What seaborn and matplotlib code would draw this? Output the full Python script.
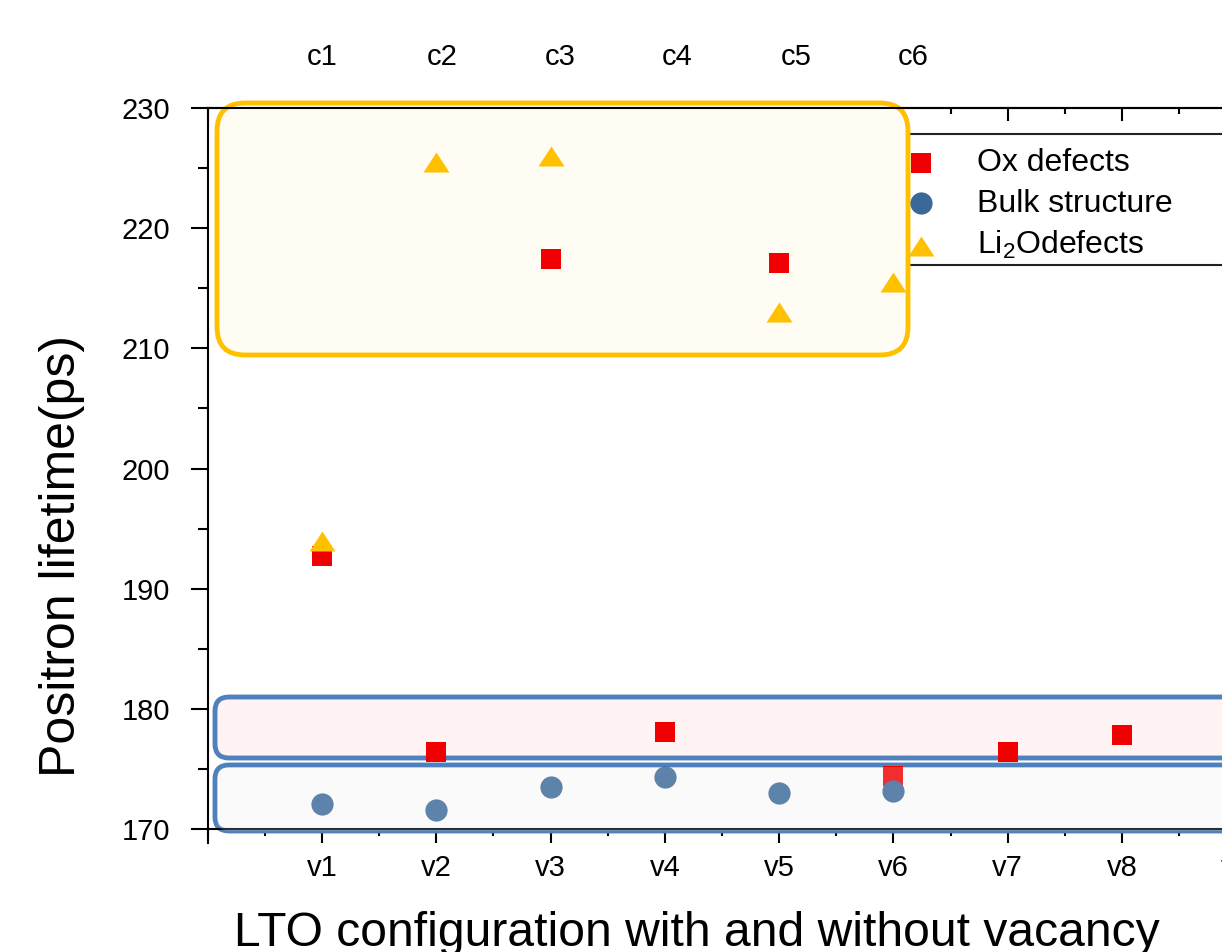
import numpy as np
import pandas as pd
import matplotlib
matplotlib.use('Agg')
import matplotlib.pyplot as plt
import matplotlib.transforms as mtransforms
import seaborn as sns
from matplotlib.patches import FancyBboxPatch, Rectangle
from matplotlib.ticker import MultipleLocator

# data
config_labels = ['v1', 'v2', 'v3', 'v4', 'v5', 'v6', 'v7', 'v8', 'v9']
top_labels = ['c1', 'c2', 'c3', 'c4', 'c5', 'c6']

ox_x = [1, 2, 3, 4, 5, 6, 7, 8]
ox_y = [192.7, 176.4, 217.4, 178.1, 217.1, 174.4, 176.4, 177.8]

bulk_x = [1, 2, 3, 4, 5, 6]
bulk_y = [172.1, 171.6, 173.5, 174.3, 173.0, 173.2]

li2o_x = [1, 2, 3, 5, 6]
li2o_y = [194.0, 225.5, 226.0, 213.0, 215.5]

# where the c-labels sit along the top (data x)
c_label_pos = [1.0, 2.05, 3.08, 4.11, 5.15, 6.17]

RED = '#f00000'
BLUE = '#3a6898'
GOLD = '#ffc000'
BOX_BLUE = '#4f81bd'

sns.set_theme(style='ticks')
plt.rcParams['font.family'] = ['Liberation Sans', 'DejaVu Sans']
plt.rcParams['mathtext.fontset'] = 'custom'
plt.rcParams['mathtext.rm'] = 'Liberation Sans'
plt.rcParams['mathtext.it'] = 'Liberation Sans:italic'
plt.rcParams['text.color'] = 'black'
plt.rcParams['axes.labelcolor'] = 'black'
plt.rcParams['xtick.color'] = 'black'
plt.rcParams['ytick.color'] = 'black'

W, H = 1222, 952
fig = plt.figure(figsize=(W / 100, H / 100), dpi=100)

x0_px, x_unit = 207.7, 114.3
y_top_px, y_bot_px = 108, 829
xmax = 9.6
ax = fig.add_axes([x0_px / W, (H - y_bot_px) / H,
                   xmax * x_unit / W, (y_bot_px - y_top_px) / H])
ax.set_xlim(0, xmax)
ax.set_ylim(170, 230)
y_unit = (y_bot_px - y_top_px) / 60.0
aspect = x_unit / y_unit


def px_to_data(px, py):
    return (px - x0_px) / x_unit, 230 - (py - y_top_px) / y_unit


def rounded_box(left, top, right, bottom, r_px, fc, ec, z, lw=3.5):
    xa, ya = px_to_data(left, bottom)
    xb, yb = px_to_data(right, top)
    p = FancyBboxPatch((xa, ya), xb - xa, yb - ya,
                       boxstyle=f"round,pad=0,rounding_size={r_px / x_unit}",
                       mutation_aspect=aspect, fc=fc, ec=ec, lw=lw,
                       zorder=z, clip_on=False)
    ax.add_patch(p)
    return p


# legend frame (only top & bottom visible in the crop)
lx, ly_top = px_to_data(909, 134)
_, ly_bot = px_to_data(909, 265)
ax.add_patch(Rectangle((lx, ly_bot), 8, ly_top - ly_bot, fc='white', ec='#222222',
                       lw=1.5, zorder=0.5, clip_on=False))

rounded_box(217, 103, 908, 355, 28, '#fffcf4', GOLD, 1)
rounded_box(215, 697, 1236, 758, 14, '#fff3f3', BOX_BLUE, 1)
rounded_box(215, 765, 1236, 831, 14, '#fafafa', BOX_BLUE, 1)

tri = [(-1, -0.77), (1, -0.77), (0, 0.77)]
sns.scatterplot(x=ox_x, y=ox_y, marker='s', color=RED, s=14.5 ** 2,
                linewidth=0, ax=ax, label='Ox defects', zorder=3, clip_on=False)
sns.scatterplot(x=bulk_x, y=bulk_y, marker='o', color=BLUE, s=16 ** 2,
                linewidth=0, ax=ax, label='Bulk structure', zorder=3, clip_on=False)
sns.scatterplot(x=li2o_x, y=li2o_y, marker=tri, color=GOLD, s=18.7 ** 2,
                linewidth=0, ax=ax, label='Li$_2$Odefects', zorder=3, clip_on=False)

# translucent fill of the lower box lies over its markers
gx, gy = px_to_data(217, 831)
gx2, gy2 = px_to_data(1236, 767)
ax.add_patch(FancyBboxPatch((gx, gy), gx2 - gx, gy2 - gy,
                            boxstyle=f"round,pad=0,rounding_size={12 / x_unit}",
                            mutation_aspect=aspect, fc='white', ec='none',
                            alpha=0.18, zorder=4, clip_on=False))

leg = ax.legend(loc='upper left', bbox_to_anchor=(905 / W, 1 - 148 / H),
                bbox_transform=fig.transFigure, frameon=False, fontsize=23,
                handlelength=1.0, handletextpad=1.25, labelspacing=0.33,
                borderpad=0, borderaxespad=0)

# axes & ticks
for s in ['left', 'bottom', 'top']:
    ax.spines[s].set_linewidth(1.5)
    ax.spines[s].set_color('black')
ax.spines['right'].set_visible(False)
ax.spines['left'].set_bounds(170 - 14 / y_unit, 230)

ax.set_xticks(range(1, 10))
ax.set_xticklabels(config_labels)
ax.xaxis.set_minor_locator(MultipleLocator(0.5))
ax.set_yticks(range(170, 231, 10))
ax.yaxis.set_minor_locator(MultipleLocator(5))
ax.tick_params(axis='y', which='major', direction='out', length=12, width=1.5,
               labelsize=21, pad=15)
ax.tick_params(axis='y', which='minor', direction='out', length=7, width=1.5)
ax.tick_params(axis='x', which='major', direction='out', length=10, width=1.5,
               labelsize=21, pad=8)
ax.tick_params(axis='x', which='minor', direction='out', length=5, width=1.5)

top = ax.secondary_xaxis('top')
top.set_xticks(range(0, 10))
top.xaxis.set_minor_locator(MultipleLocator(0.5))
top.tick_params(axis='x', which='major', direction='in', length=9.4, width=1.5,
                labeltop=False)
top.tick_params(axis='x', which='minor', direction='in', length=4.3, width=1.5)
top.spines['top'].set_linewidth(1.5)

trans = mtransforms.blended_transform_factory(ax.transData, fig.transFigure)
for xp, lab in zip(c_label_pos, top_labels):
    ax.text(xp, 1 - 57 / H, lab, transform=trans, ha='center', va='center',
            fontsize=21, clip_on=False)

fig.text(697 / W, 1 - 946 / H, 'LTO configuration with and without vacancy',
         ha='center', va='baseline', fontsize=34.6)
fig.text(62 / W, 1 - 556 / H, 'Positron lifetime(ps)', rotation=90,
         ha='center', va='center', fontsize=36)

fig.savefig('out.png', dpi=100)
